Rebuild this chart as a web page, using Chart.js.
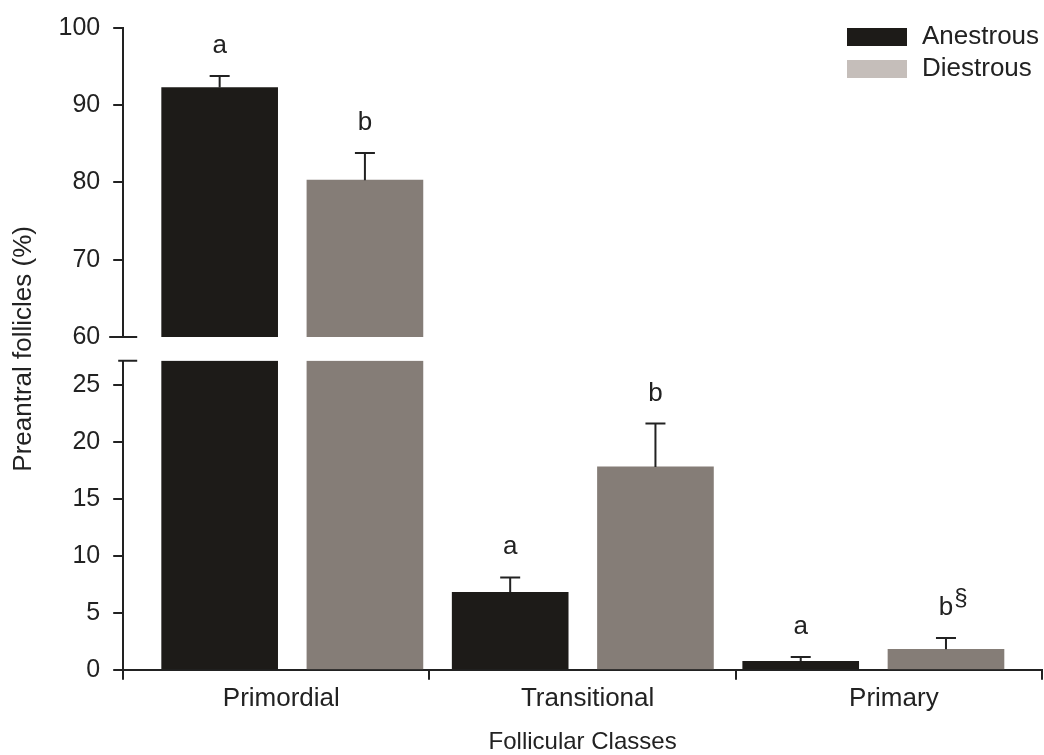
<!DOCTYPE html>
<html lang="en">
  <head>
    <meta charset="UTF-8" />
    <script src="https://cdn.jsdelivr.net/npm/chart.js@4.4.1/dist/chart.umd.min.js"></script>
    <title>Preantral follicles</title>
    <style>
      html,
      body {
        margin: 0;
        padding: 0;
        background-color: #ffffff;
      }

      canvas {
        display: block;
      }
    </style>
  </head>
  <body>
    <canvas id="myChart" width="1044" height="755"></canvas>
    <script>
      const categories = ["Primordial", "Transitional", "Primary"];
      const seriesNames = ["Anestrous", "Diestrous"];
      const anestrous = [92.3, 6.8, 0.75];
      const anestrousSem = [1.5, 1.3, 0.37];
      const diestrous = [80.3, 17.8, 1.8];
      const diestrousSem = [3.5, 3.8, 1.0];
      const anestrousLetters = ["a", "a", "a"];
      const diestrousLetters = ["b", "b", "b"];
      const diestrousMarks = ["", "", "§"];

      // broken axis: lower panel 0..LOW_MAX, upper panel HIGH_MIN..HIGH_MAX
      const LOW_MAX = 27.1;
      const HIGH_MIN = 60;
      const HIGH_MAX = 100;

      const ink = "#222222";
      const barColors = ["#1d1b18", "#857d77"];
      const legendColors = ["#1d1b18", "#c5beba"];
      const font = "'Liberation Sans', Arial, sans-serif";
      Chart.defaults.font.family = font;
      Chart.defaults.color = ink;

      const series = [
        { values: anestrous, sem: anestrousSem, letters: anestrousLetters, marks: ["", "", ""] },
        { values: diestrous, sem: diestrousSem, letters: diestrousLetters, marks: diestrousMarks },
      ];

      // each bar sits at slot 2*category + series on a hidden linear axis
      function lowData(values, s) {
        return values.map((v, i) => ({ x: 2 * i + s, y: [0, Math.min(v, LOW_MAX)] }));
      }
      function highData(values, s) {
        return values.map((v, i) => ({ x: 2 * i + s, y: v > HIGH_MIN ? [HIGH_MIN, v] : null }));
      }

      const datasets = [];
      series.forEach((s, si) => {
        datasets.push({
          label: seriesNames[si],
          data: lowData(s.values, si),
          backgroundColor: barColors[si],
          xAxisID: "xb",
          yAxisID: "yBot",
        });
        datasets.push({
          label: seriesNames[si],
          data: highData(s.values, si),
          backgroundColor: barColors[si],
          xAxisID: "xb",
          yAxisID: "yTop",
        });
      });

      const extras = {
        id: "extras",
        afterDatasetsDraw(chart) {
          const ctx = chart.ctx;
          const xb = chart.scales.xb;
          const lo = chart.scales.yBot;
          const hi = chart.scales.yTop;
          const area = chart.chartArea;
          const yFor = (v) => (v > HIGH_MIN ? hi.getPixelForValue(v) : lo.getPixelForValue(v));

          ctx.save();
          ctx.strokeStyle = ink;
          ctx.fillStyle = ink;
          ctx.lineWidth = 2;
          series.forEach((s, si) => {
            s.values.forEach((v, i) => {
              const x = xb.getPixelForValue(2 * i + si);
              const yv = yFor(v);
              const ye = yFor(v + s.sem[i]);
              ctx.beginPath();
              ctx.moveTo(x, yv);
              ctx.lineTo(x, ye);
              ctx.moveTo(x - 10, ye);
              ctx.lineTo(x + 10, ye);
              ctx.stroke();

              ctx.font = "26px " + font;
              ctx.textAlign = "center";
              ctx.textBaseline = "alphabetic";
              ctx.fillText(s.letters[i], x, ye - 23);
              if (s.marks[i]) {
                const w = ctx.measureText(s.letters[i]).width;
                ctx.font = "24px " + font;
                ctx.textAlign = "left";
                ctx.fillText(s.marks[i], x + w / 2 + 1, ye - 33);
              }
            });
          });

          // axis break marks
          const ax = area.left;
          const yb = hi.getPixelForValue(HIGH_MIN);
          const yt = lo.getPixelForValue(LOW_MAX);
          ctx.beginPath();
          ctx.moveTo(ax - 14, yb);
          ctx.lineTo(ax + 14, yb);
          ctx.moveTo(ax - 5, yt);
          ctx.lineTo(ax + 14, yt);
          ctx.stroke();

          // legend
          const lx = area.right - 195;
          ctx.font = "26px " + font;
          ctx.textAlign = "left";
          ctx.textBaseline = "middle";
          seriesNames.forEach((name, k) => {
            const top = area.top + k * 32;
            ctx.fillStyle = legendColors[k];
            ctx.fillRect(lx, top, 60, 18);
            ctx.fillStyle = ink;
            ctx.fillText(name, lx + 75, top + 9);
          });
          ctx.restore();
        },
      };

      const axisLine = { color: ink, width: 2 };
      const tickGrid = { drawOnChartArea: false, tickLength: 10, lineWidth: 2, color: ink };

      new Chart(document.getElementById("myChart").getContext("2d"), {
        type: "bar",
        data: { datasets: datasets },
        plugins: [extras],
        options: {
          responsive: false,
          animation: false,
          layout: { padding: { top: 25, right: 2, left: 0, bottom: 0 } },
          datasets: { bar: { grouped: false, barThickness: 116 } },
          plugins: { legend: { display: false }, tooltip: { enabled: false } },
          scales: {
            x: {
              type: "category",
              labels: categories,
              position: "bottom",
              offset: true,
              grid: Object.assign({ offset: true }, tickGrid),
              border: axisLine,
              ticks: { font: { size: 26 }, color: ink, padding: 3, labelOffset: 5 },
              title: {
                display: true,
                text: "Follicular Classes",
                font: { size: 24, lineHeight: 1 },
                color: ink,
                padding: { top: 13, bottom: 1 },
              },
            },
            xb: { type: "linear", display: false, offset: false, min: -0.664, max: 5.661 },
            yBot: {
              type: "linear",
              position: "left",
              stack: "y",
              stackWeight: 310,
              weight: 0,
              min: 0,
              max: LOW_MAX,
              grid: tickGrid,
              border: axisLine,
              ticks: { stepSize: 5, includeBounds: false, font: { size: 25 }, color: ink, padding: 13 },
            },
            yGap: {
              type: "linear",
              position: "left",
              stack: "y",
              stackWeight: 24,
              weight: 1,
              grid: { display: false, drawTicks: false },
              border: { display: false },
              ticks: { display: false },
              title: {
                display: true,
                text: "Preantral follicles (%)",
                font: { size: 26 },
                color: ink,
                padding: { top: 8, bottom: 84 },
              },
            },
            yTop: {
              type: "linear",
              position: "left",
              stack: "y",
              stackWeight: 310,
              weight: 2,
              min: HIGH_MIN,
              max: HIGH_MAX,
              grid: tickGrid,
              border: axisLine,
              ticks: { stepSize: 10, includeBounds: false, font: { size: 25 }, color: ink, padding: 13 },
            },
          },
        },
      });
    </script>
  </body>
</html>
